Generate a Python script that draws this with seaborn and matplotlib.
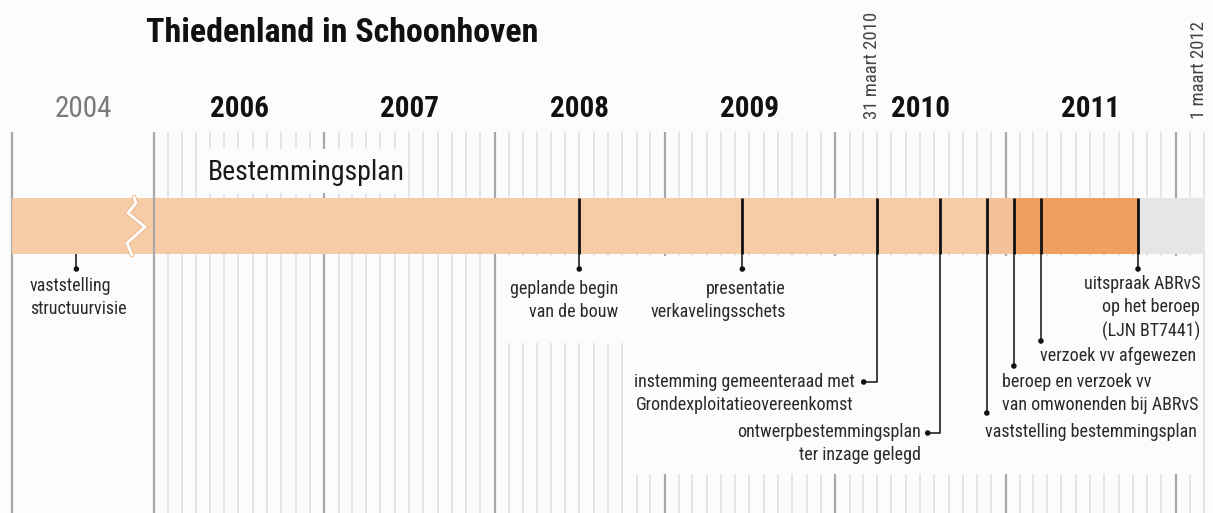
import numpy as np
import pandas as pd
import matplotlib
matplotlib.use("Agg")
import matplotlib.pyplot as plt
import seaborn as sns
from matplotlib import font_manager
from matplotlib.patches import Rectangle

# ----------------------------
# data
# ----------------------------
titel = "Thiedenland in Schoonhoven"
jaren = [2004, 2006, 2007, 2008, 2009, 2010, 2011]
fase = "Bestemmingsplan"

gebeurtenissen = [
    "vaststelling\nstructuurvisie",
    "geplande begin\nvan de bouw",
    "presentatie\nverkavelingsschets",
    "instemming gemeenteraad met\nGrondexploitatieovereenkomst",
    "ontwerpbestemmingsplan\nter inzage gelegd",
    "vaststelling bestemmingsplan",
    "beroep en verzoek vv\nvan omwonenden bij ABRvS",
    "verzoek vv afgewezen",
    "uitspraak ABRvS\nop het beroep\n(LJN BT7441)",
]
datums = ["2004-06-15", "2008-07-01", "2009-06-16", "2010-03-31", "2010-08-13",
          "2010-11-22", "2011-01-19", "2011-03-18", "2011-10-12"]

segment_start = ["2004-01-01", "2010-11-22", "2011-01-19", "2011-10-12"]
segment_eind = ["2010-11-22", "2011-01-19", "2011-10-12", "2012-03-01"]

markeringen = ["31 maart 2010", "1 maart 2012"]
markering_datums = ["2010-03-31", "2012-03-01"]

# ----------------------------
# opmaak
# ----------------------------
segment_kleur = ["#f6cca7", "#f3c29b", "#ee9f62", "#e6e6e6"]
BG = "#fcfcfc"

# per gebeurtenis: lijn door balk, y stip, haak naar links (px), tekst x (px), tekst y (px), uitlijning
opmaak = [
    (False, 269, 0, 30, 287, "left"),
    (True, 269, 0, 618, 290, "right"),
    (True, 269, 0, 786, 290, "right"),
    (True, 382, 13, 855, 383, "center"),
    (True, 433, 12, 921, 433, "right"),
    (True, 413, 0, 985, 433, "left"),
    (True, 366, 0, 1002, 383, "left"),
    (True, 341, 0, 1040, 357, "left"),
    (True, 269, 0, 1200, 285, "right"),
]

kandidaten = ["Liberation Sans Narrow", "Roboto Condensed", "Roboto", "DejaVu Sans"]
beschikbaar = {f.name for f in font_manager.fontManager.ttflist}
font = next(n for n in kandidaten if n in beschikbaar)

sns.set_style("white")
plt.rcParams["font.family"] = [font, "DejaVu Sans"]

BREAK_START = 2005.166
X0, PX_JAAR, PX_2006 = 2006.0, 170.3, 154.0


def px(p):
    # pixel -> as-eenheid
    return X0 + (p - PX_2006) / PX_JAAR


def naar_x(d):
    d = pd.Timestamp(d)
    b = pd.Timestamp(d.year, 1, 1)
    e = pd.Timestamp(d.year + 1, 1, 1)
    frac = (d - b) / (e - b)
    if d.year < 2006:
        # 2004 ingeschoven voor de onderbreking
        return BREAK_START + frac * (2006 - BREAK_START)
    return d.year + frac


fig = plt.figure(figsize=(12.13, 5.13), dpi=100, facecolor=BG)
ax = fig.add_axes([0, 0, 1, 1])
ax.set_facecolor(BG)
ax.set_xlim(px(0), px(1213))
ax.set_ylim(513, 0)
ax.axis("off")

# ----------------------------
# raster
# ----------------------------
maanden = pd.date_range("2006-01-01", "2012-03-01", freq="MS")
mx = [naar_x(m) for m in maanden]
ax.vlines(mx, 132, 513, color="#dedede", lw=1.1, zorder=1)
jaarlijnen = [BREAK_START] + [naar_x(f"{j}-01-01") for j in range(2006, 2013)]
ax.vlines(jaarlijnen, 132, 513, color="#a8a8a8", lw=1.6, zorder=1.2)

# witte vlakken achter tekst
for x0, x1, y0, y1 in [(203, 405, 149, 193), (497, 627, 256, 343), (629, 1199, 256, 474)]:
    ax.add_patch(Rectangle((px(x0), y0), px(x1) - px(x0), y1 - y0,
                           facecolor=BG, edgecolor="none", zorder=2))

# ----------------------------
# balk
# ----------------------------
starts = np.array([naar_x(d) for d in segment_start])
eindes = np.array([naar_x(d) for d in segment_eind])
ax.barh(y=226, width=eindes - starts, left=starts, height=56,
        color=segment_kleur, edgecolor="none", zorder=3)
ax.vlines(2006, 198, 254, color="#a8a8a8", lw=1.6, zorder=4)

# onderbreking
zx = [134, 136, 128, 145, 127, 132]
zy = [197, 203, 213, 227, 243, 255]
ax.plot([px(v) for v in zx], zy, color="#eeb88e", lw=3.4, zorder=4.5, solid_joinstyle="miter")
ax.plot([px(v) for v in zx], zy, color="white", lw=2.0, zorder=4.6, solid_joinstyle="miter")

# ----------------------------
# gebeurtenissen
# ----------------------------
ex = [naar_x(d) for d in datums]
stip_x, stip_y = [], []
for x, tekst, (door_balk, ys, haak, tx, ty, uitl) in zip(ex, gebeurtenissen, opmaak):
    if door_balk:
        ax.vlines(x, 198, 254, color="#111111", lw=2.0, zorder=5)
    ax.vlines(x, 254, ys, color="#222222", lw=1.2, zorder=5)
    if haak:
        ax.plot([x, x - haak / PX_JAAR], [ys, ys], color="#222222", lw=1.2, zorder=5)
    stip_x.append(x - haak / PX_JAAR)
    stip_y.append(ys)
    ha = "right" if uitl == "center" else uitl
    ax.text(px(tx), ty - 10, tekst, ha=ha, va="top", multialignment=uitl,
            fontsize=13, color="#2a2a2a", linespacing=1.38, zorder=6)

punten = pd.DataFrame({"x": stip_x, "y": stip_y})
sns.scatterplot(data=punten, x="x", y="y", ax=ax, s=16, color="#111111",
                edgecolor="none", zorder=7, legend=False)

# ----------------------------
# teksten
# ----------------------------
ax.text(px(146), 33, titel, ha="left", va="center", fontsize=24.5, fontweight="bold",
        color="#111111")
for j in jaren:
    if j == 2004:
        xm = (BREAK_START + 2006) / 2
        ax.text(xm, 109, str(j), ha="center", va="center", fontsize=21, color="#7a7a7a")
    else:
        ax.text(j + 0.5, 109, str(j), ha="center", va="center", fontsize=21,
                fontweight="bold", color="#111111")
ax.text(px(208), 173, fase, ha="left", va="center", fontsize=20, color="#1a1a1a", zorder=3)

for m, d in zip(markeringen, markering_datums):
    ax.text(naar_x(d) - 5 / PX_JAAR, 119, m, rotation=90, ha="center", va="bottom",
            fontsize=13.5, color="#444444")

fig.savefig("out.png", dpi=100, facecolor=BG)
